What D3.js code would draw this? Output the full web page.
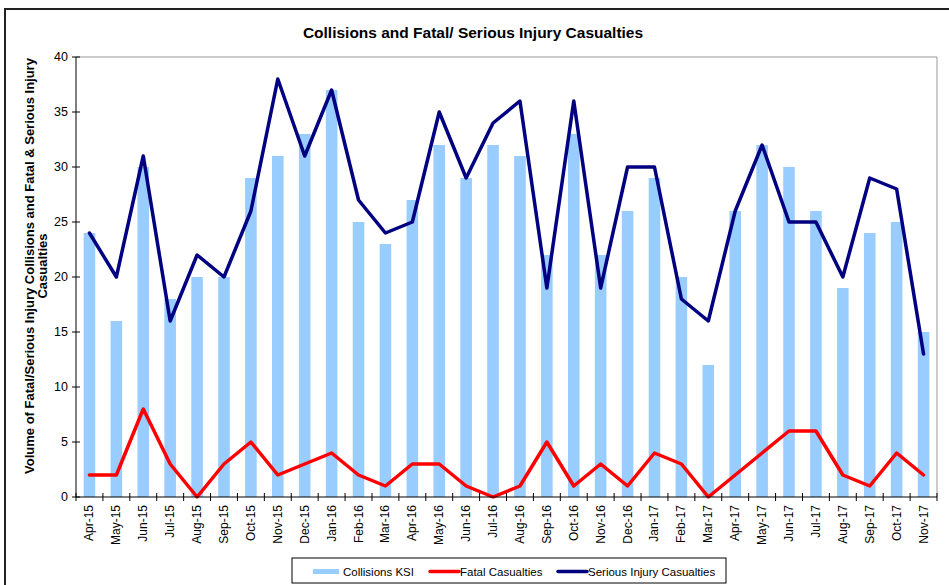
<!DOCTYPE html>
<html>
<head>
<meta charset="utf-8">
<script src="https://cdn.jsdelivr.net/npm/d3@7"></script>
<style>
  body { margin: 0; background: #fff; }
  svg { display: block; font-family: Arial, "Liberation Sans", sans-serif; }
</style>
</head>
<body>
<svg id="chart" width="949" height="585"></svg>
<script>
const months = ['Apr-15','May-15','Jun-15','Jul-15','Aug-15','Sep-15','Oct-15','Nov-15','Dec-15',
  'Jan-16','Feb-16','Mar-16','Apr-16','May-16','Jun-16','Jul-16','Aug-16','Sep-16','Oct-16','Nov-16','Dec-16',
  'Jan-17','Feb-17','Mar-17','Apr-17','May-17','Jun-17','Jul-17','Aug-17','Sep-17','Oct-17','Nov-17'];
const collisionsKSI = [24,16,30,18,20,20,29,31,33,37,25,23,27,32,29,32,31,22,33,22,26,29,20,12,26,32,30,26,19,24,25,15];
const fatalCasualties = [2,2,8,3,0,3,5,2,3,4,2,1,3,3,1,0,1,5,1,3,1,4,3,0,2,4,6,6,2,1,4,2];
const seriousCasualties = [24,20,31,16,22,20,26,38,31,37,27,24,25,35,29,34,36,19,36,19,30,30,18,16,26,32,25,25,20,29,28,13];
const yTicks = [0,5,10,15,20,25,30,35,40];

const svg = d3.select('#chart');
const margin = {top: 57, right: 12, bottom: 88, left: 76};
const width = 949 - margin.left - margin.right;
const height = 585 - margin.top - margin.bottom;

// outer frame (only left + top visible in the original crop)
svg.append('path')
  .attr('d', 'M5,600 L5,9 L960,9')
  .attr('fill', 'none').attr('stroke', '#222').attr('stroke-width', 2);

svg.append('text')
  .attr('x', 473).attr('y', 38)
  .attr('text-anchor', 'middle')
  .style('font-size', '15.5px').style('font-weight', 'bold')
  .text('Collisions and Fatal/ Serious Injury Casualties');

const g = svg.append('g').attr('transform', `translate(${margin.left},${margin.top})`);

const x = d3.scaleBand().domain(months).range([0, width]);
const y = d3.scaleLinear().domain([0, 40]).range([height, 0]);

// plot area border (grey top/right)
g.append('path')
  .attr('d', `M0,0 H${width} V${height}`)
  .attr('fill', 'none').attr('stroke', '#999').attr('stroke-width', 1);

// bars
const barW = x.bandwidth() * 0.43;
g.selectAll('.bar')
  .data(collisionsKSI)
  .join('rect').attr('class', 'bar')
  .attr('x', (d, i) => x(months[i]) + (x.bandwidth() - barW) / 2)
  .attr('y', d => y(d))
  .attr('width', barW)
  .attr('height', d => height - y(d))
  .attr('fill', '#99ccff');

// lines
const line = d3.line()
  .x((d, i) => x(months[i]) + x.bandwidth() / 2)
  .y(d => y(d));

g.append('path').datum(fatalCasualties)
  .attr('d', line)
  .attr('fill', 'none').attr('stroke', '#ff0000').attr('stroke-width', 3.5)
  .attr('stroke-linejoin', 'round').attr('stroke-linecap', 'round');

g.append('path').datum(seriousCasualties)
  .attr('d', line)
  .attr('fill', 'none').attr('stroke', '#000080').attr('stroke-width', 3.5)
  .attr('stroke-linejoin', 'round').attr('stroke-linecap', 'round');

// y axis
const yAxis = g.append('g').attr('class', 'yaxis');
yAxis.append('line').attr('x1', 0).attr('x2', 0).attr('y1', 0).attr('y2', height)
  .attr('stroke', '#000');
yAxis.selectAll('.ytick')
  .data(yTicks)
  .join('line').attr('class', 'ytick')
  .attr('x1', -4).attr('x2', 4)
  .attr('y1', d => y(d)).attr('y2', d => y(d))
  .attr('stroke', '#000');
yAxis.selectAll('.ylab')
  .data(yTicks)
  .join('text').attr('class', 'ylab')
  .attr('x', -8).attr('y', d => y(d))
  .attr('dy', '0.35em')
  .attr('text-anchor', 'end')
  .style('font-size', '12.5px')
  .text(d => d);

// x axis
const xAxis = g.append('g').attr('class', 'xaxis').attr('transform', `translate(0,${height})`);
xAxis.append('line').attr('x1', 0).attr('x2', width).attr('stroke', '#000');
xAxis.selectAll('.xtick')
  .data(months.concat(['end']))
  .join('line').attr('class', 'xtick')
  .attr('x1', (d, i) => i * x.step()).attr('x2', (d, i) => i * x.step())
  .attr('y1', -4).attr('y2', 4)
  .attr('stroke', '#000');
xAxis.selectAll('.xlab')
  .data(months)
  .join('text').attr('class', 'xlab')
  .attr('transform', d => `translate(${x(d) + x.bandwidth() / 2 + 4},8) rotate(-90)`)
  .attr('text-anchor', 'end')
  .style('font-size', '12px')
  .text(d => d);

// y axis title
const yTitle = svg.append('text')
  .attr('transform', 'translate(34,266) rotate(-90)')
  .attr('text-anchor', 'middle')
  .style('font-size', '13px').style('font-weight', 'bold');
yTitle.append('tspan').attr('x', 0).attr('dy', 0)
  .text('Volume of Fatal/Serious Injury Collisions and Fatal & Serious Injury');
yTitle.append('tspan').attr('x', 0).attr('dy', 13).text('Casualties');

// legend
const legend = svg.append('g').attr('transform', 'translate(292,558)');
legend.append('rect').attr('width', 434).attr('height', 25)
  .attr('fill', '#fff').attr('stroke', '#000').attr('stroke-width', 1);
const legendItems = [
  {label: 'Collisions KSI', color: '#99ccff', type: 'bar', x: 21},
  {label: 'Fatal Casualties', color: '#ff0000', type: 'line', x: 138},
  {label: 'Serious Injury Casualties', color: '#000080', type: 'line', x: 266}
];
legendItems.forEach(it => {
  if (it.type === 'bar') {
    legend.append('rect').attr('x', it.x).attr('y', 11).attr('width', 26).attr('height', 5)
      .attr('fill', it.color);
  } else {
    legend.append('line').attr('x1', it.x).attr('x2', it.x + 29).attr('y1', 13.5).attr('y2', 13.5)
      .attr('stroke', it.color).attr('stroke-width', 3.5).attr('stroke-linecap', 'round');
  }
  legend.append('text').attr('x', it.x + 30).attr('y', 13.5).attr('dy', '0.35em')
    .style('font-size', '11.5px').text(it.label);
});
</script>
</body>
</html>
